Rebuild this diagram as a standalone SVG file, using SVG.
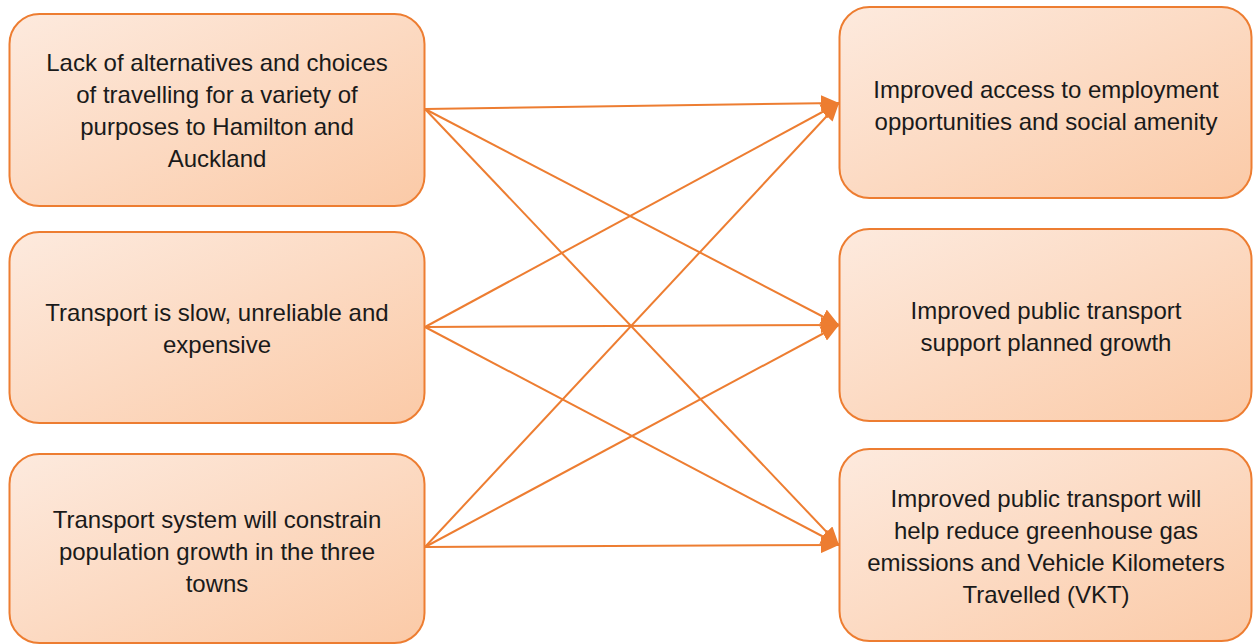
<svg xmlns="http://www.w3.org/2000/svg" width="1253" height="644" viewBox="0 0 1253 644">
<defs>
<linearGradient id="g" x1="0" y1="0" x2="1" y2="1">
<stop offset="0" stop-color="#FDEADE"/>
<stop offset="1" stop-color="#FBCAA7"/>
</linearGradient>
<marker id="ah" markerWidth="18" markerHeight="16" refX="18" refY="8" orient="auto" markerUnits="userSpaceOnUse">
<path d="M0,0 L18,8 L0,16 Z" fill="#ED7D31"/>
</marker>
<style>
.box{fill:url(#g);stroke:#ED7D31;stroke-width:2}
.t{font-family:"Liberation Sans",Arial,sans-serif;font-size:24px;fill:#1a1a1a;text-anchor:middle}
.c{stroke:#ED7D31;stroke-width:2;fill:none;marker-end:url(#ah)}
</style>
</defs>
<g id="connectors">
<line class="c" x1="425" y1="109" x2="839" y2="103"/>
<line class="c" x1="425" y1="109" x2="839" y2="325"/>
<line class="c" x1="425" y1="109" x2="839" y2="545"/>
<line class="c" x1="425" y1="327" x2="839" y2="103"/>
<line class="c" x1="425" y1="327" x2="839" y2="325"/>
<line class="c" x1="425" y1="327" x2="839" y2="545"/>
<line class="c" x1="425" y1="547" x2="839" y2="103"/>
<line class="c" x1="425" y1="547" x2="839" y2="325"/>
<line class="c" x1="425" y1="547" x2="839" y2="545"/>
</g>
<g id="n1">
<rect class="box" x="9.5" y="14" width="415" height="192" rx="30"/>
<text class="t" x="217" y="71">Lack of alternatives and choices</text>
<text class="t" x="217" y="103">of travelling for a variety of</text>
<text class="t" x="217" y="135">purposes to Hamilton and</text>
<text class="t" x="217" y="167">Auckland</text>
</g>
<g id="n2">
<rect class="box" x="9.5" y="232" width="415" height="191" rx="30"/>
<text class="t" x="217" y="321">Transport is slow, unreliable and</text>
<text class="t" x="217" y="353">expensive</text>
</g>
<g id="n3">
<rect class="box" x="9.5" y="454" width="415" height="189" rx="30"/>
<text class="t" x="217" y="528">Transport system will constrain</text>
<text class="t" x="217" y="560">population growth in the three</text>
<text class="t" x="217" y="592">towns</text>
</g>
<g id="n4">
<rect class="box" x="839.5" y="7" width="412" height="191" rx="30"/>
<text class="t" x="1046" y="98">Improved access to employment</text>
<text class="t" x="1046" y="130">opportunities and social amenity</text>
</g>
<g id="n5">
<rect class="box" x="839.5" y="229" width="412" height="192" rx="30"/>
<text class="t" x="1046" y="319">Improved public transport</text>
<text class="t" x="1046" y="351">support planned growth</text>
</g>
<g id="n6">
<rect class="box" x="839.5" y="449" width="412" height="192" rx="30"/>
<text class="t" x="1046" y="507">Improved public transport will</text>
<text class="t" x="1046" y="539">help reduce greenhouse gas</text>
<text class="t" x="1046" y="571">emissions and Vehicle Kilometers</text>
<text class="t" x="1046" y="603">Travelled (VKT)</text>
</g>
</svg>
